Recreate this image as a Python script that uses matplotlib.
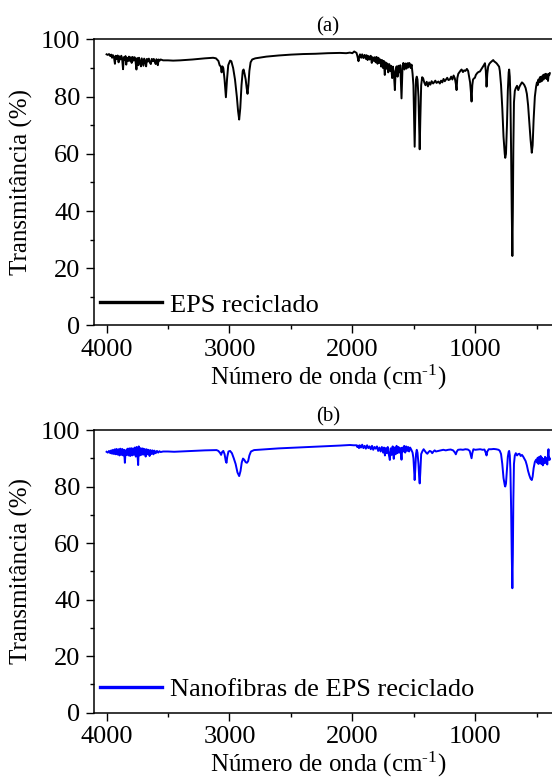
import matplotlib
matplotlib.use("Agg")
import matplotlib.pyplot as plt
from matplotlib.ticker import MultipleLocator, FixedLocator
from matplotlib.lines import Line2D

plt.rcParams['font.family'] = ['Liberation Serif', 'DejaVu Serif']
plt.rcParams['mathtext.fontset'] = 'custom'
plt.rcParams['mathtext.rm'] = 'Liberation Serif'

# ---------------- data ----------------
wn_a = [4000, 3990, 3980, 3970, 3962, 3955, 3948, 3940, 3932, 3926, 3918, 3910, 3902, 3896, 3888, 3880,
        3872, 3866, 3860, 3852, 3846, 3840, 3834, 3826, 3818, 3810, 3802, 3796, 3788, 3780, 3772, 3764,
        3757, 3750, 3742, 3736, 3728, 3720, 3714, 3706, 3700, 3694, 3686, 3678, 3672, 3664, 3656, 3648,
        3640, 3632, 3624, 3616, 3608, 3600, 3594, 3588, 3583, 3576, 3568, 3560, 3540, 3500, 3458, 3400,
        3300, 3200, 3133, 3110, 3090, 3080, 3070, 3064, 3058, 3050, 3040, 3029, 3020, 3010, 2995, 2985,
        2970, 2955, 2940, 2930, 2921, 2912, 2902, 2892, 2885, 2877, 2868, 2860, 2853, 2846, 2838, 2828,
        2815, 2790, 2700, 2600, 2500, 2400, 2300, 2200, 2100, 2050, 2020, 2000, 1985, 1966, 1958, 1950,
        1944, 1938, 1928, 1920, 1910, 1900, 1890, 1884, 1876, 1868, 1860, 1850, 1842, 1835, 1826, 1818,
        1810, 1803, 1795, 1788, 1780, 1772, 1765, 1758, 1750, 1744, 1736, 1730, 1722, 1716, 1708, 1700,
        1692, 1685, 1676, 1670, 1662, 1654, 1648, 1640, 1632, 1625, 1618, 1610, 1600, 1592, 1585, 1576,
        1568, 1560, 1552, 1545, 1538, 1532, 1525, 1518, 1510, 1503, 1497, 1493, 1488, 1482, 1476, 1470,
        1462, 1456, 1452, 1447, 1440, 1432, 1424, 1415, 1405, 1395, 1385, 1375, 1365, 1355, 1343, 1335,
        1325, 1315, 1300, 1288, 1278, 1268, 1258, 1248, 1238, 1228, 1218, 1207, 1196, 1186, 1176, 1166,
        1158, 1152, 1146, 1138, 1128, 1118, 1111, 1100, 1090, 1080, 1068, 1058, 1050, 1042, 1036, 1030,
        1024, 1018, 1010, 1003, 995, 985, 975, 962, 950, 940, 930, 921, 914, 908, 902, 895, 885, 875,
        865, 854, 845, 835, 825, 815, 806, 800, 790, 780, 770, 760, 756, 750, 742, 735, 728, 724, 719,
        714, 708, 703, 698, 694, 690, 685, 678, 670, 660, 650, 640, 630, 620, 610, 600, 590, 580, 570,
        560, 550, 540, 533, 525, 515, 505, 498, 492, 486, 480, 474, 468, 462, 456, 450, 444, 438, 432,
        426, 420, 414, 408, 402, 398, 393]
t_a = [94.8, 94.6, 94.9, 94.2, 94.7, 93.6, 94.5, 93.8, 91.5, 94.3, 93.2, 94.4, 92.0, 94.1, 93.0, 94.3,
       92.6, 89.6, 93.8, 92.8, 94.2, 91.2, 93.6, 92.4, 94.0, 92.5, 93.8, 91.8, 93.9, 92.6, 93.8, 92.3,
       89.5, 93.5, 91.0, 93.6, 92.2, 90.6, 93.4, 92.0, 90.8, 93.3, 92.4, 90.6, 93.2, 92.3, 93.3, 92.0,
       91.4, 93.2, 92.4, 93.2, 92.2, 91.4, 93.1, 92.6, 91.0, 93.0, 92.6, 93.0, 92.7, 92.7, 92.6, 92.7,
       93.0, 93.4, 93.6, 93.4, 92.5, 91.0, 90.5, 88.5, 90.6, 90.0, 86.0, 79.8, 86.0, 91.0, 92.6, 92.4,
       90.0, 86.0, 80.0, 75.0, 72.0, 76.0, 84.0, 89.0, 89.5, 88.0, 86.0, 83.0, 81.0, 84.0, 89.0, 92.0,
       93.0, 93.4, 94.0, 94.4, 94.7, 94.9, 95.0, 95.2, 95.3, 95.2, 95.4, 95.2, 95.8, 95.3, 94.0, 92.4,
       94.0, 94.8, 93.6, 94.8, 93.5, 94.6, 93.2, 94.5, 92.8, 94.2, 93.0, 94.3, 91.8, 93.8, 92.5, 93.8,
       92.0, 93.9, 91.5, 93.6, 91.8, 93.0, 90.5, 92.8, 90.0, 92.5, 87.6, 92.0, 89.8, 91.6, 88.5, 91.4,
       89.0, 90.8, 86.5, 90.5, 88.0, 82.3, 89.0, 90.6, 87.0, 90.8, 88.5, 91.0, 79.4, 90.0, 91.8, 89.5,
       91.6, 89.8, 91.7, 90.2, 91.8, 91.5, 90.0, 91.2, 88.0, 84.0, 72.0, 62.5, 74.0, 86.0, 87.0, 86.0,
       80.0, 68.0, 61.6, 72.0, 84.0, 86.8, 86.4, 85.0, 84.0, 85.2, 83.6, 85.0, 84.2, 85.4, 84.6, 85.0,
       85.6, 84.8, 85.3, 84.6, 85.6, 85.0, 86.2, 85.4, 86.0, 86.6, 85.8, 86.0, 87.0, 86.0, 87.4, 86.4,
       84.5, 82.3, 86.5, 88.0, 88.6, 89.2, 89.5, 88.6, 89.2, 89.0, 89.7, 89.0, 87.0, 85.0, 82.0, 78.3,
       84.0, 86.0, 86.4, 86.6, 87.6, 88.2, 88.6, 88.8, 89.6, 90.3, 91.0, 91.7, 89.0, 83.5, 88.0, 90.5,
       91.5, 92.0, 92.4, 92.8, 92.3, 92.0, 91.6, 91.0, 90.5, 89.0, 84.0, 76.0, 66.0, 60.0, 58.6, 60.0,
       70.0, 82.0, 88.5, 89.5, 87.0, 80.0, 60.0, 40.0, 24.3, 40.0, 62.0, 78.0, 82.0, 83.0, 83.8, 82.3,
       83.5, 84.3, 85.0, 84.6, 84.0, 83.0, 81.0, 77.0, 71.0, 65.0, 60.4, 63.0, 72.0, 80.0, 83.5, 85.0,
       84.0, 86.0, 85.0, 86.8, 85.2, 87.0, 85.5, 87.5, 86.0, 87.8, 86.5, 88.0, 86.2, 87.8, 85.5, 88.0,
       87.5, 88.2]

wn_b = [4000, 3990, 3980, 3970, 3962, 3955, 3948, 3940, 3932, 3925, 3918, 3910, 3902, 3895, 3888, 3880,
        3872, 3865, 3858, 3851, 3845, 3838, 3830, 3822, 3815, 3808, 3800, 3792, 3785, 3778, 3770, 3762,
        3755, 3748, 3743, 3738, 3730, 3722, 3714, 3706, 3698, 3690, 3682, 3674, 3666, 3658, 3650, 3642,
        3634, 3626, 3618, 3610, 3600, 3590, 3580, 3570, 3560, 3540, 3500, 3450, 3400, 3300, 3200, 3105,
        3090, 3075, 3068, 3060, 3050, 3040, 3030, 3024, 3018, 3008, 2995, 2980, 2965, 2950, 2935, 2921,
        2910, 2900, 2890, 2880, 2868, 2858, 2848, 2838, 2825, 2800, 2700, 2600, 2500, 2400, 2300, 2200,
        2100, 2020, 1990, 1966, 1960, 1954, 1946, 1940, 1930, 1920, 1910, 1900, 1890, 1880, 1870, 1860,
        1850, 1840, 1830, 1820, 1810, 1800, 1790, 1780, 1770, 1760, 1750, 1742, 1735, 1728, 1720, 1712,
        1704, 1695, 1688, 1680, 1672, 1663, 1656, 1648, 1640, 1632, 1624, 1616, 1608, 1600, 1594, 1586,
        1578, 1570, 1562, 1554, 1546, 1538, 1530, 1520, 1510, 1503, 1497, 1493, 1488, 1482, 1476, 1470,
        1462, 1456, 1452, 1447, 1440, 1430, 1420, 1410, 1400, 1390, 1380, 1370, 1360, 1350, 1340, 1330,
        1320, 1300, 1280, 1260, 1240, 1220, 1200, 1180, 1165, 1158, 1150, 1140, 1120, 1100, 1080, 1060,
        1045, 1036, 1030, 1024, 1015, 1000, 980, 960, 940, 925, 915, 908, 902, 890, 870, 850, 830, 810,
        800, 790, 780, 770, 760, 756, 750, 742, 735, 728, 724, 719, 714, 708, 703, 698, 694, 690, 685,
        678, 670, 660, 650, 640, 630, 620, 610, 600, 590, 580, 570, 560, 550, 540, 533, 525, 515, 505,
        498, 492, 486, 480, 474, 468, 462, 456, 450, 444, 438, 432, 426, 420, 414, 408, 404, 400, 396,
        393]
t_b = [92.3, 92.0, 92.6, 91.8, 92.8, 91.6, 93.0, 91.5, 93.2, 91.4, 93.3, 91.3, 93.2, 91.0, 93.4, 91.2,
       93.3, 91.0, 93.0, 88.4, 92.8, 91.2, 93.4, 91.0, 93.5, 90.8, 93.6, 91.0, 93.5, 91.2, 93.8, 90.6,
       94.0, 91.0, 87.6, 94.2, 91.0, 93.6, 91.2, 93.5, 91.3, 93.3, 90.6, 93.2, 91.4, 93.0, 90.8, 92.9,
       91.5, 92.8, 91.4, 92.7, 91.8, 92.6, 92.0, 92.5, 92.2, 92.4, 92.4, 92.3, 92.4, 92.6, 92.8, 92.9,
       92.6, 91.8, 91.2, 92.2, 92.6, 91.5, 89.0, 88.4, 90.5, 92.4, 92.6, 91.8, 90.0, 88.0, 85.0, 83.7,
       85.5, 88.5, 89.9, 89.5, 88.6, 88.4, 89.0, 91.0, 92.4, 92.9, 93.2, 93.5, 93.7, 93.9, 94.1, 94.3,
       94.5, 94.7, 94.6, 94.6, 94.0, 94.5, 93.6, 94.6, 93.8, 94.8, 93.6, 94.4, 93.4, 94.6, 93.6, 94.2,
       93.2, 94.4, 93.0, 94.0, 93.4, 94.2, 92.6, 93.8, 92.4, 94.0, 92.0, 93.8, 91.0, 93.6, 91.8, 94.0,
       91.5, 89.4, 93.5, 91.2, 94.2, 89.8, 93.8, 91.4, 94.4, 91.8, 94.0, 92.0, 93.6, 89.5, 93.8, 92.4,
       94.4, 92.0, 94.2, 92.6, 94.0, 92.4, 93.8, 93.0, 92.0, 90.0, 85.0, 82.3, 86.0, 91.5, 93.0, 92.0,
       88.0, 83.0, 81.1, 85.0, 91.5, 92.5, 93.2, 92.6, 92.0, 91.6, 92.2, 92.6, 92.4, 91.8, 92.4, 92.8,
       92.4, 92.6, 92.8, 93.0, 92.8, 93.0, 93.1, 92.8, 92.0, 91.4, 92.4, 93.0, 93.1, 93.0, 93.2, 93.1,
       92.6, 91.0, 90.0, 91.8, 93.2, 93.0, 93.1, 93.2, 93.0, 93.1, 92.0, 91.0, 92.4, 93.2, 93.2, 93.3,
       93.2, 93.0, 92.6, 91.5, 88.0, 83.0, 80.5, 80.0, 81.0, 86.0, 90.5, 92.3, 92.6, 91.0, 86.0, 72.0,
       56.0, 44.0, 56.0, 75.0, 88.0, 91.0, 91.8, 91.0, 91.5, 91.6, 90.8, 91.2, 90.6, 89.8, 89.0, 87.5,
       85.5, 84.0, 82.8, 82.3, 83.5, 86.5, 88.7, 89.5, 88.5, 90.2, 88.0, 90.5, 88.2, 90.8, 88.0, 90.2,
       87.5, 89.8, 88.2, 90.5, 88.4, 90.0, 87.8, 91.5, 93.2, 89.5, 90.2, 89.6]

label_a = "EPS reciclado"
label_b = "Nanofibras de EPS reciclado"
titles = ["(a)", "(b)"]
x_major = [4000, 3000, 2000, 1000]
x_minor = [3500, 2500, 1500, 500]
xlabel = "Número de onda (cm$\\mathregular{^{\u2010 1}}$)".replace("\u2010 1", "\u20101")
ylabel = "Transmitância (%)"

# ---------------- figure ----------------
fig = plt.figure(figsize=(5.52, 7.83), dpi=100)
ax1 = fig.add_axes([0.1708, 0.5843, 0.846, 0.3653])
ax2 = fig.add_axes([0.1708, 0.0900, 0.846, 0.3608])

FS = 19
for ax, wn, tt, col, lab, title, ly in [(ax1, wn_a, t_a, 'black', label_a, titles[0], 0.072),
                                        (ax2, wn_b, t_b, '#0000FF', label_b, titles[1], 0.082)]:
    ax.plot(wn, tt, color=col, lw=1.4)
    ax.set_xlim(4100, 300)
    ax.set_ylim(0, 100)
    ax.xaxis.set_major_locator(FixedLocator(x_major))
    ax.xaxis.set_minor_locator(FixedLocator(x_minor))
    ax.yaxis.set_major_locator(MultipleLocator(20))
    ax.yaxis.set_minor_locator(MultipleLocator(10))
    ax.tick_params(which='major', direction='out', length=6, width=1.0, labelsize=FS, pad=4)
    ax.tick_params(which='minor', direction='out', length=2.8, width=1.0)
    ax.tick_params(top=False, right=False, which='both')
    for s in ax.spines.values():
        s.set_linewidth(1.1)
    ax.spines['right'].set_visible(False)
    ax.set_xlabel(xlabel, fontsize=18, labelpad=1)
    ax.set_ylabel(ylabel, fontsize=18)
    ax.yaxis.set_label_coords(-0.131, 0.5)
    ax.set_title(title, fontsize=15, pad=6)
    h = Line2D([], [], color=col, lw=2.4)
    ax.legend([h], [lab], loc='center left', bbox_to_anchor=(0.012, ly), frameon=False,
              fontsize=FS, handlelength=2.36, handletextpad=0.3, borderpad=0, borderaxespad=0)

fig.savefig("out.png", dpi=100)
